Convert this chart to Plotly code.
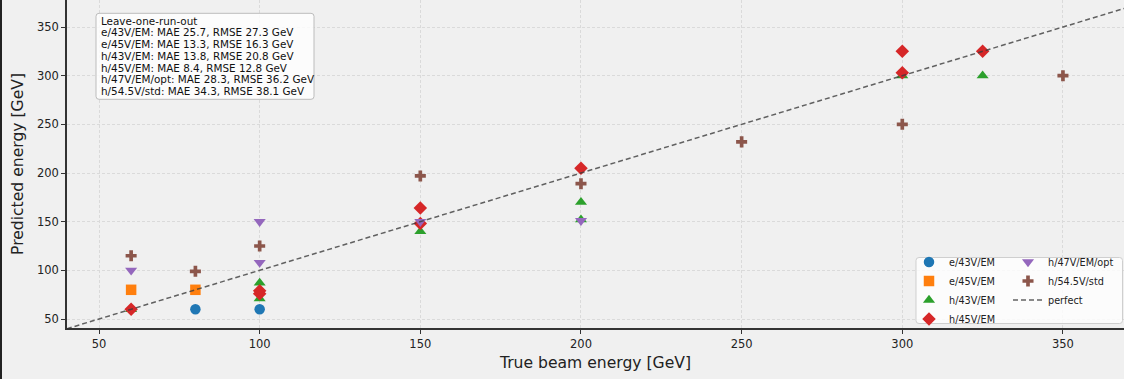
import plotly.graph_objects as go

# ---------------- data ----------------
e43_x = [80, 100]
e43_y = [60, 60]

e45_x = [60, 80]
e45_y = [80, 80]

h43_x = [60, 100, 100, 150, 200, 200, 300, 325]
h43_y = [60, 87, 71, 140, 170, 152, 300, 300]

h45_x = [60, 100, 100, 150, 150, 200, 300, 300, 325]
h45_y = [60, 76, 79, 148, 164, 205, 303, 325, 325]

h47_x = [60, 100, 100, 150, 200]
h47_y = [100, 108, 150, 150, 151]

h545_x = [60, 80, 100, 150, 200, 250, 300, 350]
h545_y = [115, 99, 125, 197, 189, 232, 250, 300]

perfect_xy = [40, 380]

x_ticks = [50, 100, 150, 200, 250, 300, 350]
y_ticks = [50, 100, 150, 200, 250, 300, 350]

summary_lines = [
    "Leave-one-run-out",
    "e/43V/EM: MAE 25.7, RMSE 27.3 GeV",
    "e/45V/EM: MAE 13.3, RMSE 16.3 GeV",
    "h/43V/EM: MAE 13.8, RMSE 20.8 GeV",
    "h/45V/EM: MAE 8.4, RMSE 12.8 GeV",
    "h/47V/EM/opt: MAE 28.3, RMSE 36.2 GeV",
    "h/54.5V/std: MAE 34.3, RMSE 38.1 GeV",
]

# ---------------- layout geometry (pixels) ----------------
W, H = 1124, 379
ML, MR, MT, MB = 67, 0, 0, 51
PW, PH = W - ML - MR, H - MT - MB
FONT = "DejaVu Sans"


def px(xp):
    return (xp - ML) / PW


def py(yp):
    return (H - MB - yp) / PH


def rounded_rect(x0, y0, x1, y1, r=3):
    rx, ry = r / PW, r / PH
    X0, X1 = px(x0), px(x1)
    Y0, Y1 = py(y0), py(y1)  # Y0 top (bigger), Y1 bottom
    return (f"M {X0+rx},{Y0} L {X1-rx},{Y0} Q {X1},{Y0} {X1},{Y0-ry} "
            f"L {X1},{Y1+ry} Q {X1},{Y1} {X1-rx},{Y1} L {X0+rx},{Y1} "
            f"Q {X0},{Y1} {X0},{Y1+ry} L {X0},{Y0-ry} Q {X0},{Y0} {X0+rx},{Y0} Z")


fig = go.Figure()

series = [
    ("e/43V/EM", e43_x, e43_y, "circle", 10.5, "#1f77b4", "legend"),
    ("e/45V/EM", e45_x, e45_y, "square", 10.5, "#ff7f0e", "legend"),
    ("h/43V/EM", h43_x, h43_y, "triangle-up", 10.5, "#2ca02c", "legend"),
    ("h/45V/EM", h45_x, h45_y, "diamond", 10.4, "#d62728", "legend"),
    ("h/47V/EM/opt", h47_x, h47_y, "triangle-down", 10.5, "#9467bd", "legend2"),
    ("h/54.5V/std", h545_x, h545_y, "cross", 9.2, "#8c564b", "legend2"),
]
for name, xs, ys, sym, size, col, leg in series:
    fig.add_trace(go.Scatter(
        x=xs, y=ys, mode="markers", name=name, legend=leg,
        marker=dict(symbol=sym, size=size, color=col, line=dict(width=0)),
    ))

fig.add_trace(go.Scatter(
    x=perfect_xy, y=perfect_xy, mode="lines", name="perfect", legend="legend2",
    line=dict(color="rgba(60,60,60,0.8)", width=1.5, dash="5px,3px"),
))

axis_common = dict(
    showline=True, linecolor="#333333", linewidth=1.6,
    ticks="outside", ticklen=4, tickwidth=1.2, tickcolor="#333333",
    showgrid=True, gridcolor="#dadada", gridwidth=0.8, griddash="3px,2px",
    zeroline=False, mirror=False,
    tickfont=dict(family=FONT, size=11.5, color="#222222"),
)

fig.update_layout(
    width=W, height=H,
    margin=dict(l=ML, r=MR, t=MT, b=MB, pad=0),
    paper_bgcolor="#f0f0f0", plot_bgcolor="#f0f0f0",
    font=dict(family=FONT, color="#222222"),
    showlegend=True,
    xaxis=dict(axis_common, range=[40.04, 369.0], tickvals=x_ticks,
               title=dict(text="True beam energy [GeV]", standoff=7,
                          font=dict(family=FONT, size=15.6, color="#222222"))),
    yaxis=dict(axis_common, range=[40.75, 377.75], tickvals=y_ticks,
               title=dict(text="Predicted energy [GeV]", standoff=9,
                          font=dict(family=FONT, size=15.6, color="#222222"))),
    legend=dict(x=px(909), y=py(247.5), xanchor="left", yanchor="top",
                bgcolor="rgba(0,0,0,0)", borderwidth=0,
                font=dict(family=FONT, size=9.7, color="#222222"),
                traceorder="normal", itemsizing="trace"),
    legend2=dict(x=px(1008), y=py(247.5), xanchor="left", yanchor="top",
                 bgcolor="rgba(0,0,0,0)", borderwidth=0,
                 font=dict(family=FONT, size=9.7, color="#222222"),
                 traceorder="normal", itemsizing="trace"),
)

shapes = [
    # summary text box
    dict(type="path", path=rounded_rect(96, 13.3, 314, 99.3), xref="paper", yref="paper",
         fillcolor="rgba(255,255,255,0.8)", line=dict(color="#bcbcbc", width=1), layer="above"),
    # legend box
    dict(type="path", path=rounded_rect(916, 257.5, 1122.5, 323.5), xref="paper", yref="paper",
         fillcolor="rgba(255,255,255,0.8)", line=dict(color="#cfcfcf", width=1), layer="above"),
    # figure left border
    dict(type="line", xref="paper", yref="paper", x0=px(1), x1=px(1), y0=py(0), y1=py(H),
         line=dict(color="#222222", width=2)),
]
fig.update_layout(shapes=shapes)

for i, line in enumerate(summary_lines):
    fig.add_annotation(
        text=line, xref="paper", yref="paper", x=px(99), y=py(20.7 + 11.72 * i),
        xanchor="left", yanchor="middle", showarrow=False,
        font=dict(family=FONT, size=10.4, color="#111111"),
    )

fig.write_html("out.html")
